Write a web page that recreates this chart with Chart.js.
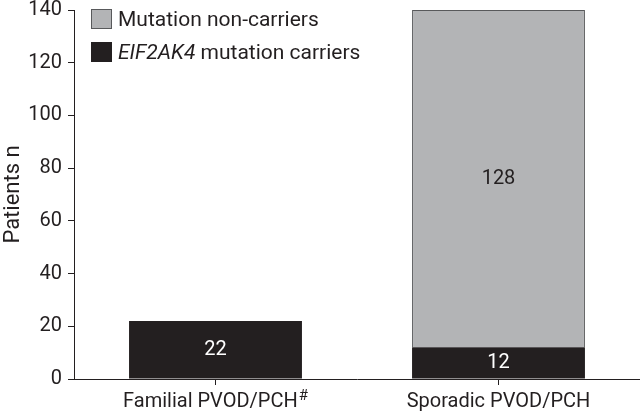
<!DOCTYPE html>
<html>
<head>
<meta charset="utf-8">
<script src="https://cdn.jsdelivr.net/npm/chart.js@4.4.1/dist/chart.umd.min.js"></script>
<style>
  html, body { margin: 0; padding: 0; background: #fff; }
  #wrap { position: relative; width: 640px; height: 414px; }
  #legend { position: absolute; left: 91px; top: 9px; font-family: Roboto, sans-serif; font-size: 21px; color: #231f20; }
  .row { display: flex; align-items: center; height: 20px; margin-bottom: 13px; white-space: pre; }
  .box { display: inline-block; width: 19px; height: 18px; border: 1px solid #58595b; margin-right: 6px; }
</style>
</head>
<body>
<div id="wrap">
  <canvas id="chart" width="640" height="414"></canvas>
  <div id="legend"></div>
</div>
<script>
// DATA
const categories = ["Familial PVOD/PCH", "Sporadic PVOD/PCH"];
const carriers = [22, 12];
const nonCarriers = [null, 128];
const yTicks = [0, 20, 40, 60, 80, 100, 120, 140];

const BLACK = "#231f20";
const GREY = "#b3b4b6";
const FONT = "Roboto";

// LEGEND (html so the gene name can be italic)
const legendItems = [
  { html: "Mutation non-carriers", fill: GREY, border: "#58595b" },
  { html: "<i>EIF2AK4</i> mutation carriers", fill: BLACK, border: BLACK }
];
document.getElementById("legend").innerHTML = legendItems.map(it =>
  `<div class="row"><span class="box" style="background:${it.fill};border-color:${it.border}"></span>${it.html}</div>`
).join("");

// value labels inside the bars
const valueLabels = {
  id: "valueLabels",
  afterDatasetsDraw(chart) {
    const ctx = chart.ctx;
    ctx.save();
    ctx.font = `20px ${FONT}`;
    ctx.textAlign = "center";
    ctx.textBaseline = "middle";
    chart.data.datasets.forEach((ds, i) => {
      chart.getDatasetMeta(i).data.forEach((bar, j) => {
        const v = ds.data[j];
        if (v == null) return;
        ctx.fillStyle = ds.labelColor;
        ctx.fillText(String(v), bar.x, (bar.y + bar.base) / 2);
      });
    });
    ctx.restore();
  }
};

// superscript # after the first category label
const supMark = {
  id: "supMark",
  afterDraw(chart) {
    const x = chart.scales.x;
    const ctx = chart.ctx;
    ctx.save();
    ctx.font = `20px ${FONT}`;
    const full = ctx.measureText(categories[0] + "\u2002").width;
    const main = ctx.measureText(categories[0]).width;
    const cx = x.getPixelForTick(0);
    const cy = x.top + 6 + 5 + 12;
    ctx.font = `15px ${FONT}`;
    ctx.fillStyle = BLACK;
    ctx.textAlign = "left";
    ctx.textBaseline = "middle";
    ctx.fillText("#", cx - full / 2 + main + 1, cy - 6);
    ctx.restore();
  }
};

new Chart(document.getElementById("chart"), {
  type: "bar",
  data: {
    labels: categories,
    datasets: [
      {
        label: "EIF2AK4 mutation carriers",
        data: carriers,
        backgroundColor: BLACK,
        borderWidth: 0,
        labelColor: "#ffffff"
      },
      {
        label: "Mutation non-carriers",
        data: nonCarriers,
        backgroundColor: GREY,
        borderColor: "#58595b",
        borderWidth: 1,
        labelColor: BLACK
      }
    ]
  },
  options: {
    responsive: false,
    animation: false,
    devicePixelRatio: 1,
    layout: { padding: { top: 10, right: 0, bottom: 0, left: 0 } },
    categoryPercentage: 1,
    barPercentage: 0.611,
    plugins: { legend: { display: false }, tooltip: { enabled: false } },
    scales: {
      x: {
        stacked: true,
        border: { display: true, color: BLACK, width: 1 },
        grid: { offset: false, drawOnChartArea: false, drawTicks: true, tickLength: 6, color: BLACK },
        ticks: {
          color: BLACK,
          padding: 5,
          maxRotation: 0,
          font: { family: FONT, size: 20, lineHeight: 1.2 },
          callback: (v, i) => i === 0 ? categories[i] + "\u2002" : categories[i]
        },
        afterFit: s => { s.height = 35; s.paddingLeft = 0; s.paddingRight = 0; }
      },
      y: {
        stacked: true,
        min: 0,
        max: 140,
        afterBuildTicks: s => { s.ticks = yTicks.map(v => ({ value: v })); },
        border: { display: true, color: BLACK, width: 1 },
        grid: { drawOnChartArea: false, drawTicks: true, tickLength: 6, color: BLACK },
        ticks: {
          color: BLACK,
          padding: 6,
          font: { family: FONT, size: 20, lineHeight: 1 }
        },
        title: {
          display: true,
          text: "Patients n",
          color: BLACK,
          padding: { top: 0, bottom: 4 },
          font: { family: FONT, size: 22, lineHeight: 1.2 }
        },
        afterFit: s => { s.width = 74; s.paddingTop = 0; s.paddingBottom = 0; }
      }
    }
  },
  plugins: [valueLabels, supMark]
});
</script>
</body>
</html>
